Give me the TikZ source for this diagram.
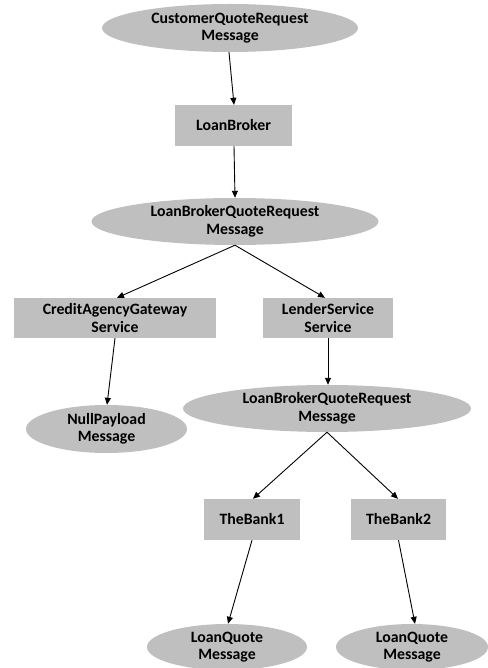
\documentclass[tikz,border=0pt]{standalone}
\usepackage{fontspec}
\setmainfont{Carlito}
\usetikzlibrary{shapes.geometric,arrows.meta}
\definecolor{shapefill}{RGB}{191,191,191}
\tikzset{
  msg/.style={ellipse, fill=shapefill, draw=none, inner sep=0pt, align=center,
    font=\fontsize{15.8}{17.5}\selectfont\bfseries},
  svc/.style={rectangle, fill=shapefill, draw=none, inner sep=0pt, align=center,
    font=\fontsize{15.8}{17.5}\selectfont\bfseries},
  conn/.style={draw=black, line width=0.9pt, -{Triangle[length=7pt,width=6pt]}}
}
\begin{document}
\begin{tikzpicture}[x=1pt,y=-1pt]
\useasboundingbox (0,0) rectangle (487,668);
\node[msg, minimum width=256pt, minimum height=48pt] (cqr) at (230,28) {CustomerQuoteRequest\\Message};
\node[svc, minimum width=117pt, minimum height=41pt] (lb) at (233.5,125.5) {LoanBroker};
\node[msg, minimum width=287pt, minimum height=47pt] (lbqr1) at (235,221.5) {LoanBrokerQuoteRequest\\Message};
\node[svc, minimum width=202pt, minimum height=40pt] (cag) at (115,318) {CreditAgencyGateway\\Service};
\node[svc, minimum width=130pt, minimum height=40pt] (ls) at (328,318) {LenderService\\Service};
\node[msg, minimum width=161pt, minimum height=48pt] (np) at (106.5,429) {NullPayload\\Message};
\node[msg, minimum width=288pt, minimum height=47pt] (lbqr2) at (327,408.5) {LoanBrokerQuoteRequest\\Message};
\node[svc, minimum width=96pt, minimum height=41pt] (b1) at (252,519.5) {TheBank1};
\node[svc, minimum width=95pt, minimum height=41pt] (b2) at (398.5,519.5) {TheBank2};
\node[msg, minimum width=160pt, minimum height=46pt] (lq1) at (227,647) {LoanQuote\\Message};
\node[msg, minimum width=152pt, minimum height=46pt] (lq2) at (412,647) {LoanQuote\\Message};

\draw[conn] ([xshift=-1pt]cqr.south) -- ([xshift=0.5pt]lb.north);
\draw[conn] ([xshift=0.5pt]lb.south) -- (lbqr1.north);
\draw[conn] (lbqr1.south) -- ([xshift=2pt]cag.north);
\draw[conn] (lbqr1.south) -- ([xshift=-3pt]ls.north);
\draw[conn] (cag.south) -- ([xshift=0.5pt]np.north);
\draw[conn] (ls.south) -- ([xshift=1pt]lbqr2.north);
\draw[conn] (lbqr2.south) -- ([xshift=1pt]b1.north);
\draw[conn] (lbqr2.south) -- ([xshift=-0.5pt]b2.north);
\draw[conn] (b1.south) -- ([xshift=1pt]lq1.north);
\draw[conn] (b2.south) -- ([xshift=3pt]lq2.north);
\end{tikzpicture}
\end{document}
